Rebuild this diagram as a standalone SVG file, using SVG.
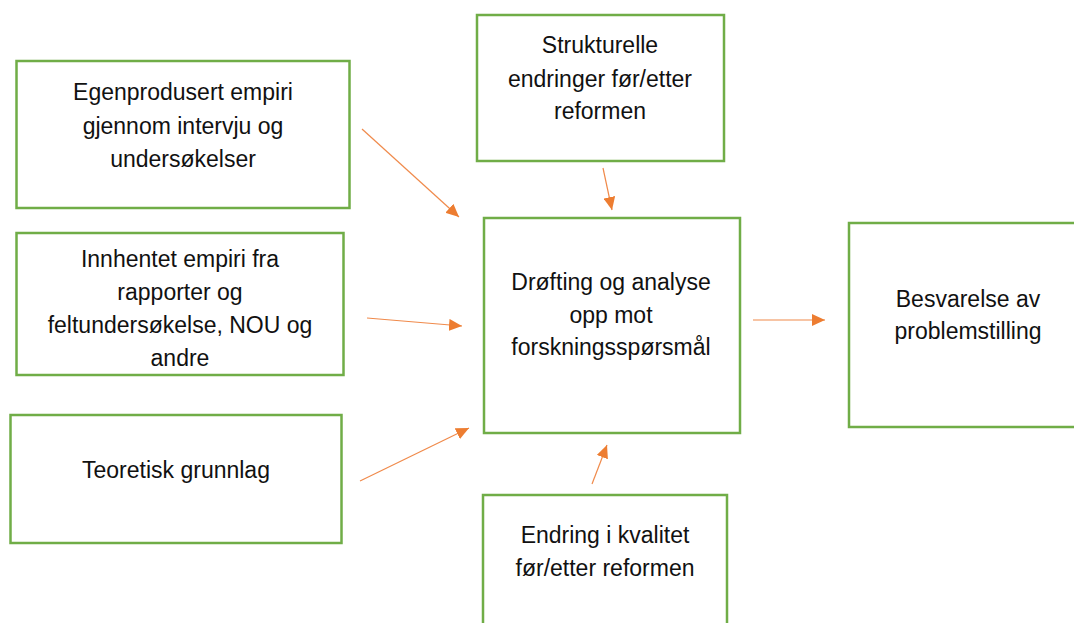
<svg xmlns="http://www.w3.org/2000/svg" width="1074" height="623" viewBox="0 0 1074 623">
<defs>
<style>
.box{fill:#fff;stroke:#70AD47;stroke-width:2.5}
.t{font-family:"Liberation Sans",Arial,sans-serif;font-size:23px;fill:#111;text-anchor:middle}
.c{stroke:#F08A4B;stroke-width:1.2;fill:none;marker-end:url(#ah)}
</style>
<marker id="ah" markerUnits="userSpaceOnUse" markerWidth="14" markerHeight="12" refX="13" refY="6" orient="auto">
<path d="M0,0 L13,6 L0,12 Z" fill="#ED7D31"/>
</marker>
</defs>
<rect width="1074" height="623" fill="#fff"/>
<g id="n-egen">
<rect class="box" x="16.5" y="61" width="333" height="147"/>
<text class="t" x="183" y="100">Egenprodusert empiri</text>
<text class="t" x="183" y="134">gjennom intervju og</text>
<text class="t" x="183" y="167">undersøkelser</text>
</g>
<g id="n-innhentet">
<rect class="box" x="16.5" y="233" width="327" height="142"/>
<text class="t" x="180" y="267">Innhentet empiri fra</text>
<text class="t" x="180" y="300">rapporter og</text>
<text class="t" x="180" y="333">feltundersøkelse, NOU og</text>
<text class="t" x="180" y="366">andre</text>
</g>
<g id="n-teori">
<rect class="box" x="10.5" y="415" width="331" height="128"/>
<text class="t" x="176" y="478">Teoretisk grunnlag</text>
</g>
<g id="n-struktur">
<rect class="box" x="477" y="15" width="247" height="146"/>
<text class="t" x="600" y="53">Strukturelle</text>
<text class="t" x="600" y="87">endringer før/etter</text>
<text class="t" x="600" y="119">reformen</text>
</g>
<g id="n-drofting">
<rect class="box" x="484" y="218" width="256" height="215"/>
<text class="t" x="611" y="290">Drøfting og analyse</text>
<text class="t" x="611" y="323">opp mot</text>
<text class="t" x="611" y="355">forskningsspørsmål</text>
</g>
<g id="n-kvalitet">
<rect class="box" x="483" y="495" width="244" height="140"/>
<text class="t" x="605" y="543">Endring i kvalitet</text>
<text class="t" x="605" y="576">før/etter reformen</text>
</g>
<g id="n-besvarelse">
<rect class="box" x="849" y="223" width="240" height="204"/>
<text class="t" x="968" y="307">Besvarelse av</text>
<text class="t" x="968" y="339">problemstilling</text>
</g>
<g id="connectors">
<line class="c" x1="362" y1="129" x2="459" y2="217"/>
<line class="c" x1="603" y1="168" x2="612" y2="210"/>
<line class="c" x1="367" y1="318" x2="462" y2="326"/>
<line class="c" x1="360" y1="481" x2="469" y2="428"/>
<line class="c" x1="592" y1="484" x2="607" y2="445"/>
<line class="c" x1="753" y1="320" x2="825" y2="320"/>
</g>
</svg>
